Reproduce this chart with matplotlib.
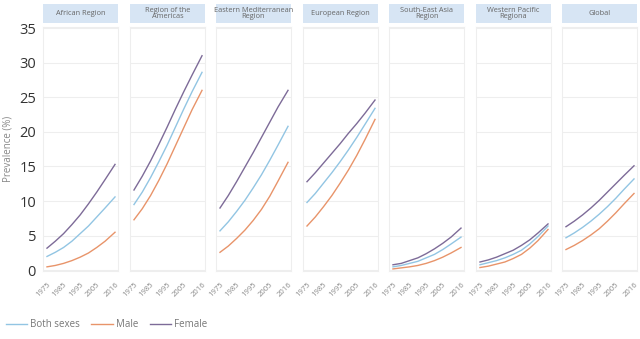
import numpy as np
import matplotlib.pyplot as plt
from matplotlib.patches import Rectangle

plt.rcParams['font.family'] = ['Open Sans', 'DejaVu Sans']

years = [1975, 1980, 1985, 1990, 1995, 2000, 2005, 2010, 2016]
xticks = [1975, 1985, 1995, 2005, 2016]

regions = ['African Region', 'Region of the\nAmericas', 'Eastern Mediterranean\nRegion',
           'European Region', 'South-East Asia\nRegion', 'Western Pacific\nRegiona', 'Global']

both = [
    [2.0, 2.6, 3.3, 4.2, 5.3, 6.4, 7.7, 9.0, 10.6],
    [9.5, 11.3, 13.4, 15.7, 18.1, 20.7, 23.3, 25.8, 28.6],
    [5.7, 7.0, 8.5, 10.1, 11.9, 13.8, 15.9, 18.1, 20.8],
    [9.8, 11.1, 12.6, 14.1, 15.7, 17.4, 19.2, 21.1, 23.4],
    [0.5, 0.7, 1.0, 1.3, 1.8, 2.3, 3.0, 3.8, 4.8],
    [0.8, 1.1, 1.4, 1.8, 2.3, 2.9, 3.8, 4.9, 6.4],
    [4.7, 5.4, 6.2, 7.1, 8.1, 9.2, 10.4, 11.7, 13.2],
]
male = [
    [0.5, 0.7, 1.0, 1.4, 1.9, 2.5, 3.3, 4.2, 5.5],
    [7.3, 8.9, 10.8, 13.0, 15.4, 18.0, 20.6, 23.2, 26.0],
    [2.6, 3.5, 4.6, 5.8, 7.2, 8.8, 10.7, 12.9, 15.6],
    [6.4, 7.7, 9.2, 10.8, 12.6, 14.5, 16.6, 18.9, 21.8],
    [0.2, 0.35, 0.5, 0.7, 1.0, 1.4, 1.9, 2.5, 3.3],
    [0.4, 0.6, 0.9, 1.2, 1.7, 2.3, 3.2, 4.3, 5.9],
    [3.0, 3.6, 4.3, 5.1, 6.0, 7.1, 8.3, 9.6, 11.1],
]
female = [
    [3.2, 4.2, 5.3, 6.6, 8.0, 9.6, 11.3, 13.1, 15.3],
    [11.6, 13.6, 15.8, 18.2, 20.7, 23.3, 25.8, 28.2, 31.0],
    [9.0, 10.8, 12.8, 14.9, 17.0, 19.2, 21.4, 23.6, 26.0],
    [12.8, 14.1, 15.5, 16.9, 18.3, 19.8, 21.2, 22.7, 24.6],
    [0.8, 1.0, 1.4, 1.8, 2.4, 3.1, 3.9, 4.8, 6.1],
    [1.2, 1.5, 1.9, 2.4, 2.9, 3.6, 4.4, 5.4, 6.7],
    [6.3, 7.1, 8.0, 9.0, 10.1, 11.3, 12.5, 13.7, 15.1],
]

c_both = '#92c5e3'
c_male = '#e8946a'
c_female = '#7d6b98'

W, H = 640, 339
fig = plt.figure(figsize=(6.4, 3.39), dpi=100)

lefts = [43, 130, 216, 303, 389, 476, 562]
pw = 75
top, bottom = 27, 271

for i, name in enumerate(regions):
    ax = fig.add_axes([lefts[i] / W, 1 - bottom / H, pw / W, (bottom - top) / H])
    ax.plot(years, both[i], color=c_both, lw=1.0, label='Both sexes')
    ax.plot(years, male[i], color=c_male, lw=1.0, label='Male')
    ax.plot(years, female[i], color=c_female, lw=1.0, label='Female')
    ax.set_xlim(1972.6, 2017.8)
    ax.set_ylim(-0.1, 35.15)
    ax.set_yticks(range(0, 36, 5))
    ax.set_xticks(xticks)
    ax.set_xticklabels([str(x) for x in xticks], rotation=45, ha='right',
                       rotation_mode='anchor', fontsize=5.5, color='#888888')
    ax.tick_params(length=0, pad=7)
    ax.grid(axis='y', color='#eeeeee', lw=0.8)
    ax.set_axisbelow(True)
    for s in ax.spines.values():
        s.set_color('#eeeeee')
        s.set_linewidth(0.8)
    if i == 0:
        ax.tick_params(axis='y', labelsize=10.5, labelcolor='#333333', pad=5)
        ax.set_ylabel('Prevalence (%)', fontsize=7, color='#888888', labelpad=4)
    else:
        ax.set_yticklabels([])
    # header box
    hb0 = 1 + (top - 23) / (bottom - top)
    hb1 = 1 + (top - 4) / (bottom - top)
    ax.add_patch(Rectangle((0, hb0), 1, hb1 - hb0, transform=ax.transAxes,
                           facecolor='#d7e5f4', edgecolor='none', clip_on=False))
    ax.text(0.5, (hb0 + hb1) / 2, name, transform=ax.transAxes, ha='center',
            va='center', fontsize=5.3, color='#666666', linespacing=0.95)

handles, labels = ax.get_legend_handles_labels()
fig.legend(handles, labels, loc='lower left', bbox_to_anchor=(-0.005, 0.0),
           ncol=3, frameon=False, fontsize=7, handlelength=2.2,
           handletextpad=0.3, columnspacing=1.2, labelcolor='#777777')

fig.savefig('out.png', dpi=100)
